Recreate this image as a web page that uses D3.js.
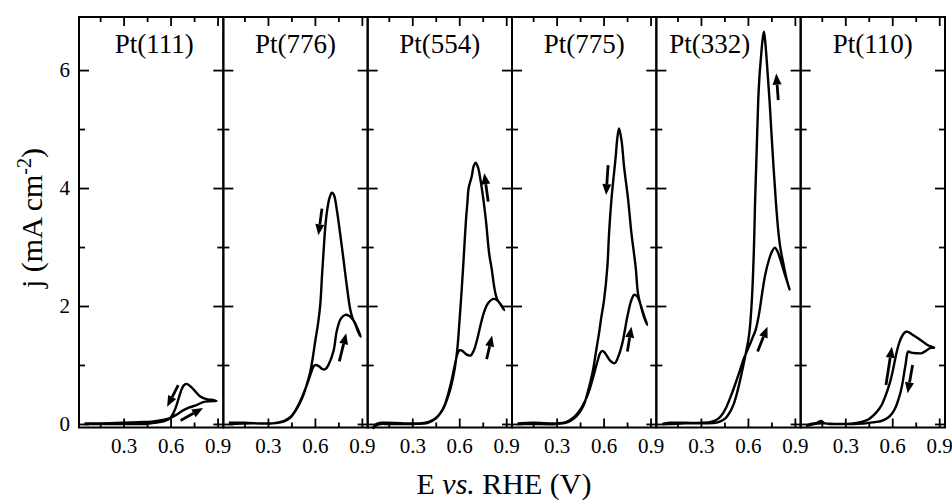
<!DOCTYPE html>
<html>
<head>
<meta charset="utf-8">
<script src="https://cdn.jsdelivr.net/npm/d3@7"></script>
<style>
  html, body { margin: 0; padding: 0; background: #fff; }
  svg { display: block; font-family: "Liberation Serif", "Times New Roman", serif; }
</style>
</head>
<body>
<svg id="chart" width="952" height="500"></svg>
<script>
// Facet titles (one panel per crystal surface)
const surfaces = ["Pt(111)", "Pt(776)", "Pt(554)", "Pt(775)", "Pt(332)", "Pt(110)"];

// Axis ticks
const eMajorTicks = [0.3, 0.6, 0.9];
const eMinorTicks = [0.15, 0.45, 0.75];
const jMajorTicks = [0, 2, 4, 6];
const jMinorTicks = [1, 3, 5];

// Voltammograms: [E (V vs RHE), j (mA cm^-2)], positive-going then negative-going sweep
const pt111Pos = [[0.05,0.01],[0.15,0.01],[0.3,0.02],[0.4,0.03],[0.48,0.04],[0.55,0.07],[0.596,0.1],[0.64,0.16],[0.68,0.23],[0.72,0.28],[0.766,0.32],[0.808,0.37],[0.85,0.385],[0.893,0.39]];
const pt111Neg = [[0.893,0.39],[0.86,0.41],[0.83,0.42],[0.787,0.47],[0.755,0.56],[0.734,0.62],[0.712,0.67],[0.698,0.68],[0.683,0.65],[0.668,0.57],[0.649,0.41],[0.632,0.27],[0.617,0.18],[0.595,0.09],[0.56,0.05],[0.5,0.02],[0.44,0.0],[0.35,0.0],[0.2,0.0],[0.05,0.0]];

const pt776Pos = [[0.05,0.02],[0.15,0.02],[0.25,0.01],[0.33,0.01],[0.4,0.05],[0.444,0.12],[0.48,0.25],[0.519,0.46],[0.548,0.66],[0.572,0.84],[0.59,0.97],[0.603,1.0],[0.625,0.98],[0.648,0.93],[0.667,0.93],[0.69,1.02],[0.72,1.25],[0.74,1.58],[0.765,1.78],[0.793,1.85],[0.82,1.83],[0.848,1.75],[0.875,1.6],[0.893,1.48]];
const pt776Neg = [[0.893,1.48],[0.878,1.55],[0.86,1.68],[0.84,1.8],[0.825,1.95],[0.802,2.38],[0.783,2.78],[0.76,3.25],[0.74,3.63],[0.722,3.88],[0.709,3.92],[0.695,3.85],[0.677,3.6],[0.665,3.3],[0.656,2.95],[0.645,2.5],[0.635,2.05],[0.62,1.7],[0.603,1.42],[0.585,1.1],[0.57,0.88],[0.545,0.64],[0.52,0.45],[0.48,0.24],[0.44,0.1],[0.4,0.04],[0.33,0.01],[0.2,0.01],[0.05,0.0]];

const pt554Pos = [[0.047,-0.08],[0.07,0.0],[0.1,0.02],[0.14,0.02],[0.25,0.01],[0.34,0.01],[0.4,0.03],[0.44,0.08],[0.475,0.17],[0.504,0.3],[0.525,0.47],[0.546,0.68],[0.57,0.98],[0.59,1.2],[0.603,1.25],[0.62,1.24],[0.645,1.18],[0.672,1.16],[0.695,1.26],[0.716,1.45],[0.74,1.72],[0.759,1.9],[0.785,2.05],[0.818,2.12],[0.84,2.1],[0.862,2.04],[0.887,1.93]];
const pt554Neg = [[0.887,1.93],[0.865,2.02],[0.845,2.1],[0.834,2.18],[0.823,2.33],[0.806,2.65],[0.791,2.89],[0.77,3.46],[0.752,3.85],[0.738,4.1],[0.72,4.35],[0.705,4.43],[0.693,4.38],[0.68,4.2],[0.66,4.0],[0.652,3.75],[0.643,3.46],[0.63,2.89],[0.617,2.33],[0.602,1.76],[0.587,1.25],[0.57,0.92],[0.546,0.62],[0.52,0.4],[0.49,0.22],[0.45,0.09],[0.4,0.02],[0.3,0.0],[0.15,0.0],[0.08,-0.01],[0.047,-0.08]];

const pt775Pos = [[0.05,0.01],[0.15,0.02],[0.3,0.01],[0.36,0.03],[0.412,0.12],[0.445,0.22],[0.476,0.36],[0.505,0.54],[0.529,0.75],[0.56,1.05],[0.578,1.2],[0.593,1.24],[0.61,1.2],[0.64,1.08],[0.671,1.03],[0.695,1.15],[0.72,1.37],[0.752,1.82],[0.775,2.08],[0.795,2.19],[0.815,2.16],[0.833,2.05],[0.858,1.84],[0.879,1.68]];
const pt775Neg = [[0.879,1.68],[0.86,1.8],[0.84,1.98],[0.82,2.21],[0.805,2.66],[0.778,3.23],[0.757,3.8],[0.731,4.36],[0.715,4.8],[0.699,5.01],[0.688,4.85],[0.678,4.55],[0.671,4.36],[0.66,4.08],[0.65,3.8],[0.635,3.23],[0.624,2.66],[0.603,2.1],[0.585,1.8],[0.571,1.54],[0.55,1.2],[0.53,0.88],[0.5,0.55],[0.47,0.3],[0.43,0.14],[0.38,0.04],[0.3,0.0],[0.15,0.0],[0.05,0.0]];

const pt332Pos = [[0.053,0.0],[0.1,0.02],[0.2,0.02],[0.306,0.02],[0.37,0.04],[0.415,0.1],[0.445,0.2],[0.468,0.32],[0.495,0.5],[0.521,0.69],[0.548,0.9],[0.574,1.11],[0.6,1.27],[0.628,1.45],[0.65,1.6],[0.67,1.85],[0.69,2.2],[0.71,2.52],[0.734,2.78],[0.755,2.93],[0.772,2.99],[0.79,2.92],[0.808,2.78],[0.84,2.5],[0.855,2.38],[0.866,2.28]];
const pt332Neg = [[0.866,2.28],[0.848,2.45],[0.828,2.7],[0.81,2.94],[0.796,3.22],[0.778,3.79],[0.757,4.64],[0.738,5.49],[0.723,6.06],[0.71,6.5],[0.702,6.65],[0.693,6.5],[0.68,6.1],[0.674,5.9],[0.666,5.49],[0.656,4.64],[0.646,3.79],[0.638,2.94],[0.625,2.09],[0.608,1.52],[0.583,1.15],[0.565,0.92],[0.55,0.74],[0.53,0.52],[0.511,0.35],[0.485,0.2],[0.458,0.1],[0.42,0.04],[0.39,0.02],[0.3,0.01],[0.2,0.01],[0.1,0.0],[0.053,0.0]];

const pt110Pos = [[0.049,-0.03],[0.08,0.0],[0.12,0.02],[0.145,0.05],[0.17,0.01],[0.25,0.0],[0.35,0.01],[0.41,0.04],[0.45,0.08],[0.5,0.2],[0.53,0.31],[0.56,0.5],[0.585,0.7],[0.605,0.92],[0.625,1.18],[0.645,1.38],[0.665,1.5],[0.685,1.56],[0.7,1.56],[0.72,1.53],[0.75,1.48],[0.783,1.42],[0.825,1.34],[0.868,1.29]];
const pt110Neg = [[0.868,1.29],[0.845,1.29],[0.82,1.25],[0.79,1.2],[0.75,1.2],[0.72,1.21],[0.703,1.23],[0.694,1.17],[0.686,1.02],[0.677,0.88],[0.666,0.7],[0.655,0.56],[0.64,0.42],[0.623,0.29],[0.6,0.18],[0.57,0.1],[0.53,0.05],[0.485,0.03],[0.43,0.01],[0.35,0.0],[0.25,0.0],[0.15,0.01],[0.1,0.0],[0.049,-0.03]];

// Sweep-direction arrows: [E tail, j tail, E head, j head]
const pt111Arrows = [[0.649,0.66,0.578,0.29],[0.664,0.06,0.808,0.27]];
const pt776Arrows = [[0.645,3.65,0.622,3.2],[0.756,1.06,0.8,1.54]];
const pt554Arrows = [[0.785,3.77,0.76,4.25],[0.775,1.1,0.81,1.5]];
const pt775Arrows = [[0.629,4.39,0.616,3.88],[0.752,1.23,0.778,1.65]];
const pt332Arrows = [[0.794,5.49,0.781,5.94],[0.662,1.23,0.725,1.65]];
const pt110Arrows = [[0.56,0.66,0.598,1.31],[0.73,1.0,0.698,0.52]];

const positiveSweeps = [pt111Pos, pt776Pos, pt554Pos, pt775Pos, pt332Pos, pt110Pos];
const negativeSweeps = [pt111Neg, pt776Neg, pt554Neg, pt775Neg, pt332Neg, pt110Neg];
const sweepArrows = [pt111Arrows, pt776Arrows, pt554Arrows, pt775Arrows, pt332Arrows, pt110Arrows];

// ---- layout ----
const svg = d3.select("#chart");
const marginLeft = 79, marginTop = 17, plotW = 866, plotH = 410.5;
const panelW = plotW / surfaces.length;

const x = d3.scaleLinear().domain([0.015, 0.937]).range([0, panelW]);
const y = d3.scaleLinear().domain([-0.06, 6.9]).range([plotH, 0]);

// title nudges in E units (the Pt(332) label sits left of its tall peak)
const titleShift = [0.02, 0, 0, 0, -0.12, 0];

const line = d3.line()
  .x(d => x(d[0]))
  .y(d => y(d[1]))
  .curve(d3.curveCatmullRom.alpha(0.5));

const root = svg.append("g").attr("transform", `translate(${marginLeft},${marginTop})`);

surfaces.forEach((name, i) => {
  const g = root.append("g").attr("transform", `translate(${i * panelW},0)`);

  // inward ticks on all four sides
  const mk = (axis, scale, vals, size, fmt) =>
    axis(scale).tickValues(vals).tickSize(size).tickFormat(fmt);

  g.append("g").attr("transform", `translate(0,${plotH})`)
    .call(mk(d3.axisBottom, x, eMajorTicks, -9, d3.format(".1f")).tickPadding(11));
  g.append("g").attr("transform", `translate(0,${plotH})`)
    .call(mk(d3.axisBottom, x, eMinorTicks, -5, ""));
  g.append("g").call(mk(d3.axisTop, x, eMajorTicks, -9, ""));
  g.append("g").call(mk(d3.axisTop, x, eMinorTicks, -5, ""));

  g.append("g")
    .call(mk(d3.axisLeft, y, jMajorTicks, -10, i === 0 ? d3.format("d") : "").tickPadding(9));
  g.append("g").call(mk(d3.axisLeft, y, jMinorTicks, -6, ""));
  g.append("g").attr("transform", `translate(${panelW},0)`)
    .call(mk(d3.axisRight, y, jMajorTicks, -10, ""));
  g.append("g").attr("transform", `translate(${panelW},0)`)
    .call(mk(d3.axisRight, y, jMinorTicks, -6, ""));

  g.selectAll(".domain").remove();
  g.selectAll(".tick line").attr("stroke", "#000").attr("stroke-width", 1.8);
  g.selectAll(".tick text")
    .attr("fill", "#000")
    .style("font-family", "'Liberation Serif', serif")
    .style("font-size", "21px");

  // panel frame
  g.append("rect")
    .attr("x", 0).attr("y", 0)
    .attr("width", panelW).attr("height", plotH)
    .attr("fill", "none").attr("stroke", "#000").attr("stroke-width", 2);

  // closed voltammogram loop
  const loop = positiveSweeps[i].concat(negativeSweeps[i].slice(1));
  g.append("path")
    .datum(loop)
    .attr("d", line)
    .attr("fill", "none")
    .attr("stroke", "#000")
    .attr("stroke-width", 2.4)
    .attr("stroke-linejoin", "round");

  // direction arrows
  sweepArrows[i].forEach(a => {
    const x0 = x(a[0]), y0 = y(a[1]), x1 = x(a[2]), y1 = y(a[3]);
    const ang = Math.atan2(y1 - y0, x1 - x0);
    const headL = 11, headW = 4.5;
    const bx = x1 - headL * Math.cos(ang), by = y1 - headL * Math.sin(ang);
    g.append("line")
      .attr("x1", x0).attr("y1", y0).attr("x2", bx).attr("y2", by)
      .attr("stroke", "#000").attr("stroke-width", 2.8);
    const px = -Math.sin(ang) * headW, py = Math.cos(ang) * headW;
    g.append("path")
      .attr("d", `M${x1},${y1}L${bx + px},${by + py}L${bx - px},${by - py}Z`)
      .attr("fill", "#000");
  });

  // panel title
  g.append("text")
    .attr("x", x(0.476 + titleShift[i]))
    .attr("y", 36)
    .attr("text-anchor", "middle")
    .style("font-size", "27px")
    .text(name);
});

// axis titles
const xt = svg.append("text")
  .attr("x", 504).attr("y", 494)
  .attr("text-anchor", "middle")
  .style("font-size", "30px");
xt.append("tspan").text("E ");
xt.append("tspan").style("font-style", "italic").text("vs.");
xt.append("tspan").text(" RHE (V)");

const yt = svg.append("text")
  .attr("transform", "translate(42,218) rotate(-90)")
  .attr("text-anchor", "middle")
  .style("font-size", "30px");
yt.append("tspan").text("j (mA cm");
yt.append("tspan").attr("dy", "-0.55em").style("font-size", "20px").text("-2");
yt.append("tspan").attr("dy", "0.37em").text(")");
</script>
</body>
</html>
